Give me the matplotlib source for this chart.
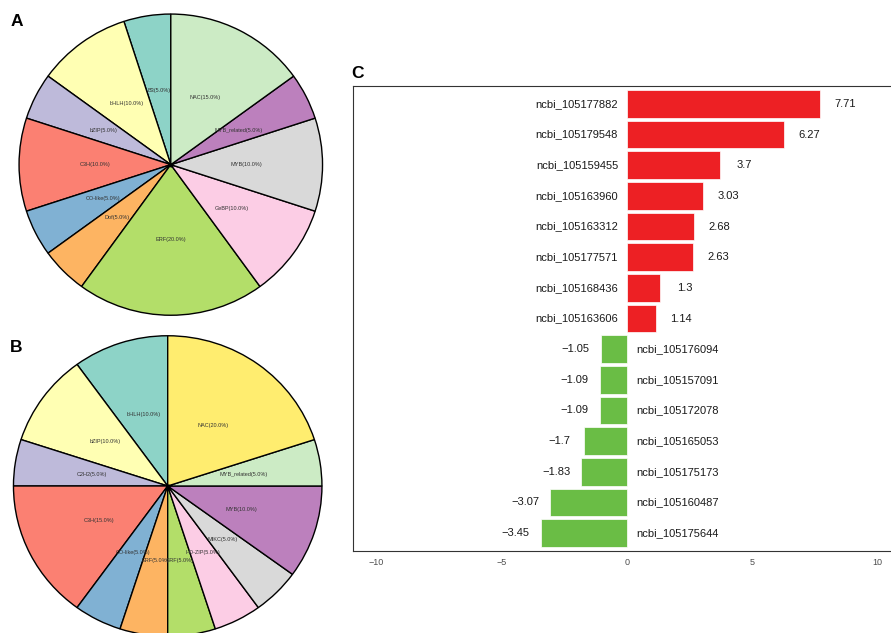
import numpy as np
import matplotlib
matplotlib.use("Agg")
import matplotlib.pyplot as plt

plt.rcParams['font.family'] = ['Liberation Sans', 'DejaVu Sans']

# Panel A: transcription factor families (percent)
fam_a = ["B3", "bHLH", "bZIP", "C3H", "CO-like", "Dof", "ERF", "GeBP", "MYB",
         "MYB_related", "NAC"]
pct_a = [5, 10, 5, 10, 5, 5, 20, 10, 10, 5, 15]

# Panel B: transcription factor families (percent)
fam_b = ["bHLH", "bZIP", "C2H2", "C3H", "CO-like", "ERF", "GRF", "HD-ZIP", "MIKC",
         "MYB", "MYB_related", "NAC"]
pct_b = [10, 10, 5, 15, 5, 5, 5, 5, 5, 10, 5, 20]

set3 = ["#8DD3C7", "#FFFFB3", "#BEBADA", "#FB8072", "#80B1D3", "#FDB462",
        "#B3DE69", "#FCCDE5", "#D9D9D9", "#BC80BD", "#CCEBC5", "#FFED6F"]

# Panel C: log2 fold change per gene
genes = ["ncbi_105177882", "ncbi_105179548", "ncbi_105159455", "ncbi_105163960",
         "ncbi_105163312", "ncbi_105177571", "ncbi_105168436", "ncbi_105163606",
         "ncbi_105176094", "ncbi_105157091", "ncbi_105172078", "ncbi_105165053",
         "ncbi_105175173", "ncbi_105160487", "ncbi_105175644"]
lfc = [7.71, 6.27, 3.7, 3.03, 2.68, 2.63, 1.3, 1.14,
       -1.05, -1.09, -1.09, -1.7, -1.83, -3.07, -3.45]
val_labels = ["7.71", "6.27", "3.7", "3.03", "2.68", "2.63", "1.3", "1.14",
              "\u22121.05", "\u22121.09", "\u22121.09", "\u22121.7", "\u22121.83",
              "\u22123.07", "\u22123.45"]
xticks = [-10, -5, 0, 5, 10]

W, H = 891, 633
fig = plt.figure(figsize=(W / 100, H / 100), dpi=100)


def px_axes(x0, y0, x1, y1):
    """Axes placed by pixel box (top-left origin)."""
    return fig.add_axes([x0 / W, 1 - y1 / H, (x1 - x0) / W, (y1 - y0) / H])


def draw_pie(ax, names, values):
    wedges, _ = ax.pie(values, colors=set3[:len(values)], startangle=90,
                       counterclock=True, radius=1.0,
                       wedgeprops=dict(edgecolor="black", linewidth=1.0))
    tot = sum(values)
    for w, n, v in zip(wedges, names, values):
        ang = np.deg2rad((w.theta1 + w.theta2) / 2)
        ax.text(0.5 * np.cos(ang), 0.5 * np.sin(ang), f"{n}({v / tot * 100:.1f}%)",
                ha="center", va="center", fontsize=4.0, color="#333333")
    ax.plot(0, 0, "o", color="black", markersize=2)
    ax.set_aspect("auto")
    ax.set_xlim(-1.005, 1.005)
    ax.set_ylim(-1.005, 1.005)
    ax.axis("off")


axA = px_axes(18.3, 13.3, 323.3, 316)
draw_pie(axA, fam_a, pct_a)

axB = px_axes(12.7, 335, 322.7, 637)
draw_pie(axB, fam_b, pct_b)

# Panel C bar chart
axC = px_axes(353, 86, 901, 551)
y = np.arange(1, len(genes) + 1)
colors = ["#ED2024" if v > 0 else "#6ABD45" for v in lfc]
axC.barh(y, lfc, height=0.9, color=colors, edgecolor="white", linewidth=0.5)
for yi, v, g, lab in zip(y, lfc, genes, val_labels):
    s = 1 if v > 0 else -1
    axC.text(v + s * 1.0, yi, lab, ha="center", va="center", fontsize=8,
             color="#1a1a1a")
    axC.text(-s * 2.0, yi, g, ha="center", va="center", fontsize=8,
             color="#1a1a1a")
axC.set_xlim(-10.94, 10.94)
axC.set_ylim(15.586, 0.414)
axC.set_yticks([])
axC.set_xticks(xticks)
axC.set_xticklabels([str(t).replace("-", "\u2212") for t in xticks])
axC.tick_params(axis="x", length=0, pad=5, labelsize=6.5, labelcolor="#4D4D4D")
for sp in axC.spines.values():
    sp.set_color("#333333")
    sp.set_linewidth(0.8)

fig.text(11 / W, 1 - 21 / H, "A", fontsize=12.5, fontweight="bold", va="center")
fig.text(10 / W, 1 - 348 / H, "B", fontsize=12.5, fontweight="bold", va="center")
fig.text(351 / W, 1 - 74 / H, "C", fontsize=12.5, fontweight="bold", va="center")

fig.savefig("out.png", dpi=100)
